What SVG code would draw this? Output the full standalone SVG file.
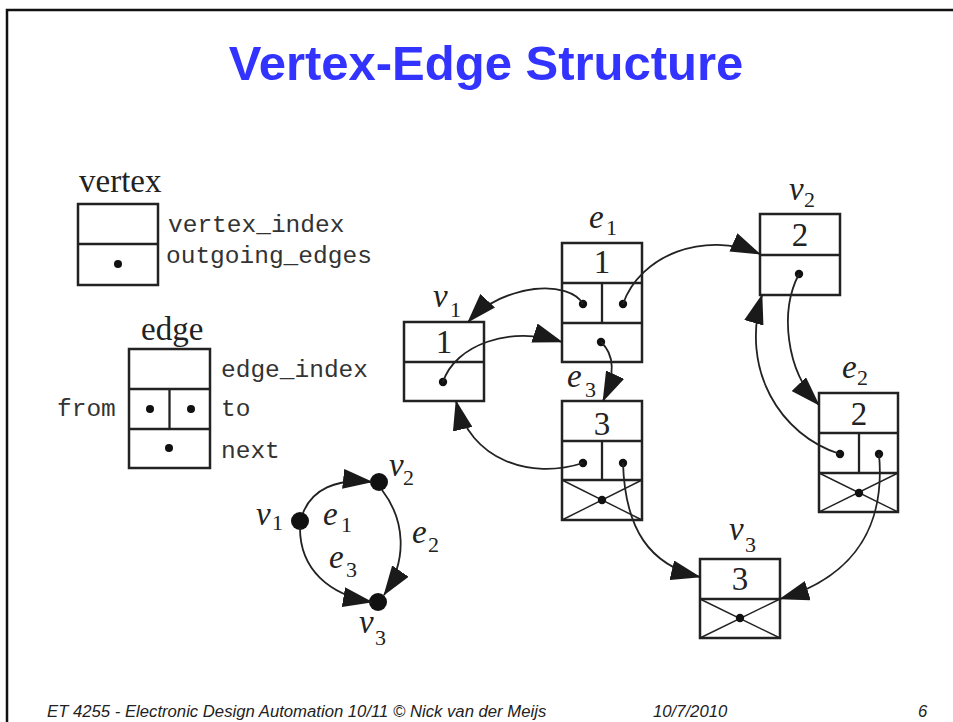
<svg xmlns="http://www.w3.org/2000/svg" width="953" height="722" viewBox="0 0 953 722">
<style>
.box{fill:none;stroke:#222;stroke-width:2.5}
.div{stroke:#222;stroke-width:2.3}
.x{stroke:#222;stroke-width:1.4}
.dot{fill:#111}
.con{fill:none;stroke:#222;stroke-width:1.8}
.mono{font-family:"Liberation Mono","Courier New",monospace;font-size:24.5px;fill:#333}
.ser{font-family:"Liberation Serif","Times New Roman",serif;font-size:33px;fill:#222}
.num{font-family:"Liberation Serif","Times New Roman",serif;font-size:33px;fill:#222;text-anchor:middle}
.it{font-family:"Liberation Serif","Times New Roman",serif;font-style:italic;font-size:33px;fill:#222}
.sub{font-family:"Liberation Serif","Times New Roman",serif;font-size:22px;fill:#222}
.title{font-family:"Liberation Sans",Arial,sans-serif;font-weight:bold;font-size:49px;fill:#3333FF;text-anchor:middle}
.foot{font-family:"Liberation Sans",Arial,sans-serif;font-style:italic;font-size:16.7px;fill:#222}
</style>
<defs>
<marker id="ah" markerWidth="30" markerHeight="20" refX="29" refY="10" orient="auto" markerUnits="userSpaceOnUse">
<path d="M0,0 L30,10 L0,20 z" fill="#1a1a1a"/>
</marker>
</defs>
<rect width="953" height="722" fill="#fff"/>
<path d="M7,722 V10 H953" fill="none" stroke="#111" stroke-width="2.5"/>
<text class="title" x="486" y="80">Vertex-Edge Structure</text>

<g id="legend-vertex">
<text class="ser" x="79" y="192">vertex</text>
<rect class="box" x="78" y="204" width="80" height="81"/>
<line class="div" x1="78" y1="244" x2="158" y2="244"/>
<circle class="dot" cx="118" cy="264" r="4"/>
<text class="mono" x="168" y="232">vertex_index</text>
<text class="mono" x="166" y="263">outgoing_edges</text>
</g>

<g id="legend-edge">
<text class="ser" x="141" y="340">edge</text>
<rect class="box" x="129" y="349" width="81" height="119"/>
<line class="div" x1="129" y1="389" x2="210" y2="389"/>
<line class="div" x1="129" y1="429" x2="210" y2="429"/>
<line class="div" x1="169.5" y1="389" x2="169.5" y2="429"/>
<circle class="dot" cx="150" cy="409" r="4"/>
<circle class="dot" cx="191" cy="409" r="4"/>
<circle class="dot" cx="169" cy="448" r="4"/>
<text class="mono" x="221" y="377">edge_index</text>
<text class="mono" x="221" y="416">to</text>
<text class="mono" x="221" y="458">next</text>
<text class="mono" x="57" y="416">from</text>
</g>

<g id="v1">
<text class="it" x="433" y="307">v</text><text class="sub" x="450" y="317">1</text>
<rect class="box" x="404" y="322" width="80" height="79"/>
<line class="div" x1="404" y1="362" x2="484" y2="362"/>
<text class="num" x="444" y="353">1</text>
<circle class="dot" cx="443" cy="382" r="4.2"/>
</g>

<g id="e1">
<text class="it" x="589" y="228">e</text><text class="sub" x="606" y="235">1</text>
<rect class="box" x="562" y="243" width="80" height="119"/>
<line class="div" x1="562" y1="283" x2="642" y2="283"/>
<line class="div" x1="562" y1="323" x2="642" y2="323"/>
<line class="div" x1="602" y1="283" x2="602" y2="323"/>
<text class="num" x="602" y="273">1</text>
<circle class="dot" cx="583" cy="304" r="4.2"/>
<circle class="dot" cx="623" cy="304" r="4.2"/>
<circle class="dot" cx="601" cy="342" r="4.2"/>
</g>

<g id="e3">
<text class="it" x="567" y="387">e</text><text class="sub" x="585" y="397">3</text>
<rect class="box" x="562" y="401" width="80" height="119"/>
<line class="div" x1="562" y1="441" x2="642" y2="441"/>
<line class="div" x1="562" y1="480" x2="642" y2="480"/>
<line class="div" x1="602" y1="441" x2="602" y2="480"/>
<line class="x" x1="562" y1="480" x2="642" y2="520"/>
<line class="x" x1="642" y1="480" x2="562" y2="520"/>
<text class="num" x="602" y="435">3</text>
<circle class="dot" cx="583" cy="463" r="4.2"/>
<circle class="dot" cx="623" cy="463" r="4.2"/>
<circle class="dot" cx="602" cy="500" r="4.2"/>
</g>

<g id="v2">
<text class="it" x="789" y="200">v</text><text class="sub" x="804" y="207">2</text>
<rect class="box" x="760" y="214" width="80" height="81"/>
<line class="div" x1="760" y1="255" x2="840" y2="255"/>
<text class="num" x="800" y="246">2</text>
<circle class="dot" cx="799" cy="274" r="4.2"/>
</g>

<g id="e2">
<text class="it" x="842" y="378">e</text><text class="sub" x="857" y="385">2</text>
<rect class="box" x="819" y="393" width="79" height="119"/>
<line class="div" x1="819" y1="433" x2="898" y2="433"/>
<line class="div" x1="819" y1="473" x2="898" y2="473"/>
<line class="div" x1="859" y1="433" x2="859" y2="473"/>
<line class="x" x1="819" y1="473" x2="898" y2="512"/>
<line class="x" x1="898" y1="473" x2="819" y2="512"/>
<text class="num" x="859" y="425">2</text>
<circle class="dot" cx="840" cy="454" r="4.2"/>
<circle class="dot" cx="879" cy="454" r="4.2"/>
<circle class="dot" cx="859" cy="493" r="4.2"/>
</g>

<g id="v3">
<text class="it" x="729" y="540">v</text><text class="sub" x="745" y="552">3</text>
<rect class="box" x="700" y="559" width="80" height="79"/>
<line class="div" x1="700" y1="599" x2="780" y2="599"/>
<line class="x" x1="700" y1="599" x2="780" y2="638"/>
<line class="x" x1="780" y1="599" x2="700" y2="638"/>
<text class="num" x="740" y="590">3</text>
<circle class="dot" cx="740" cy="618" r="4.2"/>
</g>

<g id="graph-v1">
<circle class="dot" cx="300" cy="521" r="9"/>
<text class="it" x="256" y="525">v</text><text class="sub" x="272" y="530">1</text>
</g>
<g id="graph-v2">
<circle class="dot" cx="379" cy="482" r="9"/>
<text class="it" x="389" y="476">v</text><text class="sub" x="403" y="485">2</text>
</g>
<g id="graph-v3">
<circle class="dot" cx="378" cy="602" r="9"/>
<text class="it" x="359" y="633">v</text><text class="sub" x="375" y="645">3</text>
</g>
<g id="graph-labels">
<text class="it" x="323" y="525">e</text><text class="sub" x="341" y="532">1</text>
<text class="it" x="412" y="543">e</text><text class="sub" x="428" y="552">2</text>
<text class="it" x="329" y="568">e</text><text class="sub" x="346" y="577">3</text>
</g>

<g id="connectors">
<path class="con" marker-end="url(#ah)" d="M583,304 C570,280 505,282 468,322"/>
<path class="con" marker-end="url(#ah)" d="M443,382 C455,345 510,325 562,342"/>
<path class="con" marker-end="url(#ah)" d="M601,342 C615,355 615,375 603,401"/>
<path class="con" marker-end="url(#ah)" d="M583,463 C530,480 470,460 456,401"/>
<path class="con" marker-end="url(#ah)" d="M623,304 C640,255 705,230 760,254"/>
<path class="con" marker-end="url(#ah)" d="M799,274 C780,310 785,370 819,405"/>
<path class="con" marker-end="url(#ah)" d="M840,454 C780,435 740,370 762,295"/>
<path class="con" marker-end="url(#ah)" d="M879,454 C885,520 860,575 780,599"/>
<path class="con" marker-end="url(#ah)" d="M623,463 C625,530 650,565 700,577"/>
<path class="con" marker-end="url(#ah)" d="M303,513 C312,490 335,478 372,482"/>
<path class="con" marker-end="url(#ah)" d="M382,490 C405,520 408,560 384,595"/>
<path class="con" marker-end="url(#ah)" d="M300,528 C300,570 330,595 372,602"/>
</g>

<g id="footer">
<text class="foot" x="47" y="717">ET 4255 - Electronic Design Automation 10/11 © Nick van der Meijs</text>
<text class="foot" x="653" y="717">10/7/2010</text>
<text class="foot" x="918" y="717">6</text>
</g>
</svg>
